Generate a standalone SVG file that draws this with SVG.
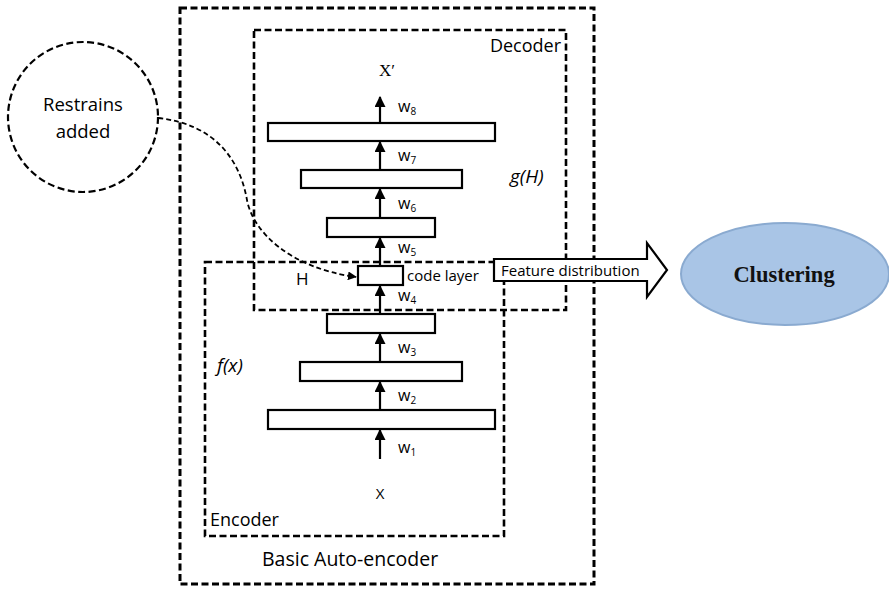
<svg xmlns="http://www.w3.org/2000/svg" width="889" height="589" viewBox="0 0 889 589">
<defs>
<style>
.dash{fill:none;stroke:#000;stroke-width:2.6;stroke-dasharray:7 3.5}
.layer{fill:#fff;stroke:#000;stroke-width:2.2}
.t{font-family:"Open Sans","Liberation Sans",sans-serif;fill:#000}
.lab{font-family:"Open Sans","Liberation Sans",sans-serif;font-size:16px;fill:#000}
.sub{font-size:10px}
.flow{stroke:#000;stroke-width:2.2;fill:none}
</style>
<marker id="ah" viewBox="0 0 10 10" refX="9" refY="5" markerWidth="5" markerHeight="5" orient="auto" markerUnits="strokeWidth">
<path d="M0,0 L10,5 L0,10 z" fill="#000"/>
</marker>
</defs>
<rect width="889" height="589" fill="#fff"/>

<g id="basic-autoencoder">
<rect class="dash" x="180" y="8" width="414" height="576" style="stroke-width:3"/>
<text class="t" x="262" y="566" font-size="19.5">Basic Auto-encoder</text>
</g>

<g id="decoder">
<rect class="dash" x="254" y="30" width="312" height="280"/>
<text class="t" x="561" y="52" font-size="18" text-anchor="end">Decoder</text>
<text class="t" x="510" y="183" font-size="19" font-style="italic">g(H)</text>
</g>

<g id="encoder">
<rect class="dash" x="205" y="262" width="299" height="274"/>
<text class="t" x="210" y="526" font-size="18">Encoder</text>
<text class="t" x="217" y="372" font-size="19" font-style="italic">f(x)</text>
</g>

<g id="restrains">
<circle class="dash" cx="83" cy="117" r="75" style="stroke-width:2.2"/>
<text class="t" x="83" y="111" font-size="18.5" text-anchor="middle">Restrains</text>
<text class="t" x="83" y="138" font-size="18.5" text-anchor="middle">added</text>
</g>

<g id="layers">
<rect class="layer" x="268" y="123" width="227" height="18"/>
<rect class="layer" x="301" y="170" width="161" height="18"/>
<rect class="layer" x="327" y="218" width="108" height="19"/>
<rect class="layer" x="358" y="266" width="45" height="19"/>
<rect class="layer" x="327" y="314" width="108" height="19"/>
<rect class="layer" x="300" y="362" width="162" height="19"/>
<rect class="layer" x="268" y="410" width="227" height="19"/>
</g>

<g id="labels">
<text x="387" y="76" font-size="17" text-anchor="middle" style="font-family:'Liberation Serif',serif">X′</text>
<text class="t" x="380" y="499" font-size="15" text-anchor="middle">X</text>
<text class="t" x="296" y="285" font-size="17">H</text>
<text class="t" x="407" y="281" font-size="15">code layer</text>
<text class="lab" x="398" y="112">w<tspan class="sub" dy="3">8</tspan></text>
<text class="lab" x="398" y="161">w<tspan class="sub" dy="3">7</tspan></text>
<text class="lab" x="398" y="209">w<tspan class="sub" dy="3">6</tspan></text>
<text class="lab" x="398" y="253">w<tspan class="sub" dy="3">5</tspan></text>
<text class="lab" x="398" y="301">w<tspan class="sub" dy="3">4</tspan></text>
<text class="lab" x="398" y="353">w<tspan class="sub" dy="3">3</tspan></text>
<text class="lab" x="398" y="401">w<tspan class="sub" dy="3">2</tspan></text>
<text class="lab" x="398" y="453">w<tspan class="sub" dy="3">1</tspan></text>
</g>

<g id="connectors">
<line class="flow" x1="380" y1="459" x2="380" y2="430" marker-end="url(#ah)"/>
<line class="flow" x1="380" y1="410" x2="380" y2="382" marker-end="url(#ah)"/>
<line class="flow" x1="380" y1="362" x2="380" y2="334" marker-end="url(#ah)"/>
<line class="flow" x1="380" y1="314" x2="380" y2="286" marker-end="url(#ah)"/>
<line class="flow" x1="380" y1="266" x2="380" y2="238" marker-end="url(#ah)"/>
<line class="flow" x1="380" y1="218" x2="380" y2="189" marker-end="url(#ah)"/>
<line class="flow" x1="380" y1="170" x2="380" y2="142" marker-end="url(#ah)"/>
<line class="flow" x1="380" y1="123" x2="380" y2="97" marker-end="url(#ah)"/>
<path d="M158,118 C215,124 240,160 247,200 C253,232 290,268 356,277" fill="none" stroke="#000" stroke-width="1.8" stroke-dasharray="5 3" marker-end="url(#ah)"/>
</g>

<g id="feature-distribution">
<path d="M494,259 L647,259 L647,243 L667,270 L647,297 L647,281 L494,281 Z" fill="#fff" stroke="#000" stroke-width="2.2" stroke-linejoin="miter"/>
<text class="t" x="501" y="276" font-size="15">Feature distribution</text>
</g>

<g id="clustering">
<ellipse cx="785" cy="274" rx="104" ry="51" fill="#a9c5e6" stroke="#8aaad0" stroke-width="2"/>
<text x="784" y="282" font-family="'Liberation Serif',serif" font-weight="bold" font-size="22.5" text-anchor="middle" fill="#111">Clustering</text>
</g>
</svg>
